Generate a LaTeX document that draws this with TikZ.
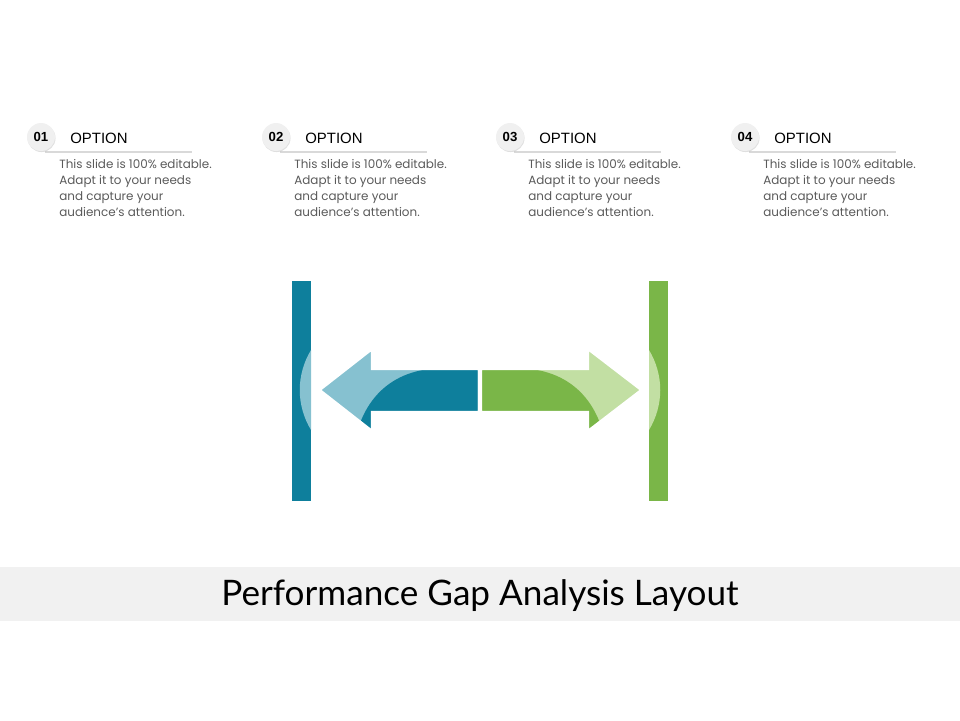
\documentclass[tikz,border=0pt]{standalone}
\usepackage{fontspec}
\setmainfont{Poppins}
\newfontfamily\optfont{Liberation Sans}
\newfontfamily\titlefont{Lato}
\usetikzlibrary{positioning,shadows}
\definecolor{tealdark}{HTML}{0E7F9C}
\definecolor{teallight}{HTML}{86C1D0}
\definecolor{greendark}{HTML}{7AB648}
\definecolor{greenlight}{HTML}{C2DFA3}
\definecolor{bandgrey}{HTML}{F1F1F1}
\definecolor{textgrey}{HTML}{5A5A5A}
\begin{document}
\begin{tikzpicture}
        [
            x = 0.02cm, y = -0.02cm,
            numdot/.style  = {circle, fill=white!94!black, minimum size=0.56cm, inner sep=0pt,
                              font=\optfont\bfseries\fontsize{7.5}{8}\selectfont,
                              drop shadow={opacity=0.25, shadow xshift=0.3pt, shadow yshift=-0.6pt}},
            opthead/.style = {anchor=west, inner sep=0pt, font=\optfont\fontsize{8.5}{9}\selectfont},
            optbody/.style = {anchor=north west, inner sep=0pt, align=left, text=textgrey,
                              font=\fontsize{6.8}{9.1}\selectfont},
            gapbar/.style  = {minimum width=0.38cm, minimum height=4.4cm, inner sep=0pt},
            % arrow outline
            rim/.style     = {draw=white, line width=2.5pt, line join=miter},
        ]
        \useasboundingbox (0,0) rectangle (960,720);
        % options
        \foreach \n/\px in {1/41, 2/276, 3/510, 4/745} {
            \draw [white!85!black, line width=1pt] (\px+4,152) -- (\px+151,152);
            \node [numdot] (num\n) at (\px,137) {0\n};
            \node [opthead] (head\n) at (\px+29,138) {OPTION};
            \node [optbody] (body\n) at (\px+18,159)
                {This slide is 100\% editable.\\Adapt it to your needs\\and capture your\\audience's attention.};
        }
        % bars
        \node [gapbar, fill=tealdark] (leftbar) at (301.5,391) {};
        \node [gapbar, fill=greendark] (rightbar) at (658.5,391) {};
        \fill [teallight] (311,350) .. controls (296,375) and (296,405) .. (311,430) -- cycle;
        \fill [greenlight] (649,350) .. controls (664,375) and (664,405) .. (649,430) -- cycle;
        % left arrow
        \begin{scope}
            \clip (480,368) -- (373,368) -- (373,347) -- (318,390) -- (373,433) -- (373,413) -- (480,413) -- cycle;
            \fill [teallight] (300,340) rectangle (480,440);
            \fill [tealdark] (480,368) -- (445,368) .. controls (395,368) and (365,395) .. (355,440) -- (480,440) -- cycle;
        \end{scope}
        \draw [rim] (480,368) -- (373,368) -- (373,347) -- (318,390) -- (373,433) -- (373,413) -- (480,413) -- cycle;
        % right arrow
        \begin{scope}
            \clip (480,368) -- (587,368) -- (587,347) -- (643,390) -- (587,433) -- (587,413) -- (480,413) -- cycle;
            \fill [greenlight] (480,340) rectangle (660,440);
            \fill [greendark] (480,368) -- (515,368) .. controls (565,368) and (595,395) .. (605,440) -- (480,440) -- cycle;
        \end{scope}
        \draw [rim] (480,368) -- (587,368) -- (587,347) -- (643,390) -- (587,433) -- (587,413) -- (480,413) -- cycle;
        % title
        \fill [bandgrey] (0,567) rectangle (960,621);
        \node [font=\titlefont\fontsize{20}{22}\selectfont] (title) at (480,596) {Performance Gap Analysis Layout};
    \end{tikzpicture}
\end{document}
